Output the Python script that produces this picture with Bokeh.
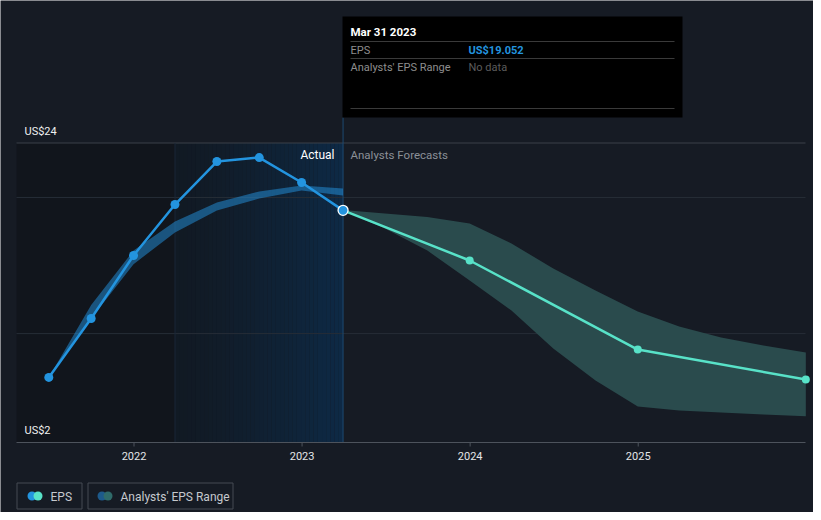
from datetime import date
import numpy as np
from bokeh.plotting import figure
from bokeh.models import Range1d
from bokeh.embed import file_html
from bokeh.resources import INLINE
from bokeh.core.properties import value

# ---------------- data ----------------
actual_dates = [(2021, 6, 30), (2021, 9, 30), (2021, 12, 31), (2022, 3, 31),
                (2022, 6, 30), (2022, 9, 30), (2022, 12, 31), (2023, 3, 31)]
actual_eps = [6.78, 11.11, 15.74, 19.48, 22.64, 22.93, 21.10, 19.052]
past_range_high = [6.78, 12.10, 16.10, 18.23, 19.63, 20.44, 20.88, 20.66]
past_range_low = [6.78, 11.10, 15.10, 17.43, 19.04, 19.92, 20.51, 20.14]

forecast_dates = [(2023, 3, 31), (2023, 12, 31), (2024, 12, 31), (2025, 12, 31)]
forecast_eps = [19.052, 15.37, 8.83, 6.63]

band_dates = [(2023, 3, 31), (2023, 6, 30), (2023, 9, 30), (2023, 12, 31),
              (2024, 3, 31), (2024, 6, 30), (2024, 9, 30), (2024, 12, 31),
              (2025, 3, 31), (2025, 6, 30), (2025, 9, 30), (2025, 12, 31)]
band_high = [19.08, 18.82, 18.56, 18.09, 16.62, 14.78, 13.17, 11.62, 10.52, 9.71, 9.13, 8.61]
band_low = [19.08, 17.72, 16.10, 13.90, 11.70, 8.91, 6.56, 4.65, 4.36, 4.21, 4.06, 3.92]

year_ticks = [2022, 2023, 2024, 2025]
year_labels = ["2022", "2023", "2024", "2025"]
grid_values = [10, 20, 24]
y_label_values = [24, 2]
y_label_texts = ["US$24", "US$2"]
hover_date_text = "Mar 31 2023"
hover_eps_text = "US$19.052"

# ---------------- layout helpers (page pixels) ----------------
PX_2022 = 133.5
PX_PER_YEAR = 168.07
PY_24 = 142.5
PY_PER_UNIT = 13.614
W, H = 813, 512


def dyear(t):
    y, m, d = t
    start = date(y, 1, 1)
    n = (date(y + 1, 1, 1) - start).days
    return y + (date(y, m, d) - start).days / n


def px_to_year(px):
    return 2022 + (px - PX_2022) / PX_PER_YEAR


def py_to_val(py):
    return 24 - (py - PY_24) / PY_PER_UNIT


ax = [dyear(t) for t in actual_dates]
fx = [dyear(t) for t in forecast_dates]
bx = [dyear(t) for t in band_dates]

X_LEFT, X_RIGHT = px_to_year(16), px_to_year(805)
Y_BOTTOM, Y_TOP = 2, 24

BG = "#161b24"
FONT = value("Roboto")

p = figure(width=W, height=H,
           x_range=Range1d(px_to_year(0), px_to_year(W)),
           y_range=Range1d(py_to_val(H), py_to_val(0)),
           x_axis_type=None, y_axis_type=None,
           toolbar_location=None, output_backend="svg",
           min_border=0, background_fill_color=BG, border_fill_color=BG,
           outline_line_color=None)
p.extra_x_ranges = {"px": Range1d(0, W)}
p.extra_y_ranges = {"px": Range1d(H, 0)}

# ---------------- background regions ----------------
win_start = dyear((2022, 3, 31))
win_end = ax[-1]
p.quad(left=X_LEFT, right=win_start, bottom=Y_BOTTOM, top=Y_TOP,
       fill_color="#11151c", line_color=None)
N = 40
edges = np.linspace(win_start, win_end, N + 1)
c0 = np.array([18, 26, 36])
c1 = np.array([14, 42, 70])
cols = []
for i in range(N):
    t = (i + 0.5) / N
    c = (c0 + (c1 - c0) * t ** 1.3).astype(int)
    cols.append("#%02x%02x%02x" % tuple(c))
p.quad(left=edges[:-1], right=edges[1:], bottom=Y_BOTTOM, top=Y_TOP,
       fill_color=cols, line_color=None)

# gridlines
for gv in grid_values:
    p.segment(x0=X_LEFT, x1=X_RIGHT, y0=gv, y1=gv,
              line_color="#3a4049" if gv == 24 else "#262d37", line_width=1)

# window lines
p.segment(x0=win_start, x1=win_start, y0=Y_BOTTOM, y1=Y_TOP,
          line_color="#1a2838", line_width=1)
p.segment(x0=win_end, x1=win_end, y0=Y_BOTTOM, y1=py_to_val(117),
          line_color="#1d4a72", line_width=1)

# x axis
p.segment(x0=16, x1=805, y0=442, y1=442, line_color="#4d535c", line_width=1,
          x_range_name="px", y_range_name="px")
p.segment(x0=year_ticks, x1=year_ticks, y0=[442] * 4, y1=[446] * 4,
          line_color="#4d535c", line_width=1, y_range_name="px")
p.text(x=year_ticks, y=[455] * 4, text=year_labels, y_range_name="px",
       text_font=FONT, text_font_size="11px", text_color="#e4e6e8",
       text_align="center", text_baseline="middle")

# y labels
p.text(x=[24, 24], y=y_label_values, text=y_label_texts, x_range_name="px",
       y_offset=[-12, -12],
       text_font=FONT, text_font_size="11px", text_color="#f0f0f0",
       text_align="left", text_baseline="middle")

# ---------------- bands ----------------
p.varea(x=ax, y1=past_range_low, y2=past_range_high,
        fill_color="#2394df", fill_alpha=0.5)
p.varea(x=bx, y1=band_low, y2=band_high, fill_color="#2a4b4d")

# ---------------- lines ----------------
p.line(fx, forecast_eps, line_color="#58e2c8", line_width=2.5)
p.scatter(fx[1:], forecast_eps[1:], size=8, fill_color="#58e2c8", line_color=None)

p.line(ax, actual_eps, line_color="#2394df", line_width=2.5)
p.scatter(ax[:-1], actual_eps[:-1], size=9, fill_color="#2394df", line_color=None)
p.scatter(ax[-1:], actual_eps[-1:], size=10, fill_color="#2394df",
          line_color="#ffffff", line_width=1.3)

# section labels
p.text(x=[334], y=[154.5], text=["Actual"], x_range_name="px", y_range_name="px",
       text_font=FONT, text_font_size="12px", text_color="#ffffff",
       text_align="right", text_baseline="middle")
p.text(x=[350], y=[154.5], text=["Analysts Forecasts"], x_range_name="px",
       y_range_name="px", text_font=FONT, text_font_size="11.5px",
       text_color="#8b9097", text_align="left", text_baseline="middle")

# ---------------- tooltip ----------------
p.quad(left=342, right=682, top=16, bottom=117, fill_color="#000000",
       line_color=None, x_range_name="px", y_range_name="px")
p.segment(x0=[350, 350, 350], x1=[674, 674, 674], y0=[41, 58, 108],
          y1=[41, 58, 108], line_color="#3a3a3a", line_width=1,
          x_range_name="px", y_range_name="px")
p.text(x=[350], y=[31], text=[hover_date_text], x_range_name="px",
       y_range_name="px", text_font=FONT, text_font_size="11.5px",
       text_font_style="bold", text_color="#ffffff", text_baseline="middle")
p.text(x=[350, 350], y=[49.5, 66.5], text=["EPS", "Analysts' EPS Range"],
       x_range_name="px", y_range_name="px", text_font=FONT,
       text_font_size="11px", text_color="#8e8e8e", text_baseline="middle")
p.text(x=[468], y=[49.5], text=[hover_eps_text], x_range_name="px",
       y_range_name="px", text_font=FONT, text_font_size="11px",
       text_font_style="bold", text_color="#2394df", text_baseline="middle")
p.text(x=[468], y=[66.5], text=["No data"], x_range_name="px",
       y_range_name="px", text_font=FONT, text_font_size="11px",
       text_color="#5c5c5c", text_baseline="middle")

# ---------------- legend ----------------
p.quad(left=[16.5, 87.5], right=[81.5, 232.5], top=[482.5, 482.5],
       bottom=[508.5, 508.5], fill_color=None, line_color="#444a53",
       line_width=1, x_range_name="px", y_range_name="px")
p.scatter(x=[31.5, 101.5], y=[495.5, 495.5], size=9,
          fill_color=["#2394df", "#1d5a8b"], line_color=None,
          x_range_name="px", y_range_name="px")
p.scatter(x=[37.5, 107.5], y=[495.5, 495.5], size=9,
          fill_color=["#58e2c8", "#2f6b6a"], line_color=None,
          x_range_name="px", y_range_name="px")
p.text(x=[50, 120], y=[496, 496], text=["EPS", "Analysts' EPS Range"],
       x_range_name="px", y_range_name="px", text_font=FONT,
       text_font_size="12px", text_color="#c5c9ce", text_baseline="middle")

open("out.html", "w").write(file_html(p, INLINE))
